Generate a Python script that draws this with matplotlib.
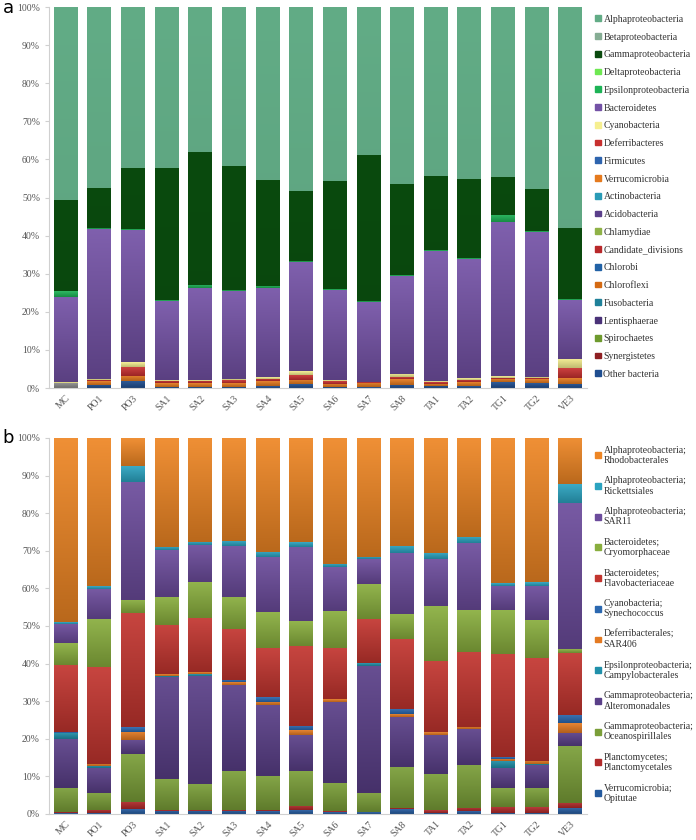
import matplotlib
matplotlib.use('Agg')
import matplotlib.pyplot as plt
import numpy as np
from matplotlib.colors import LinearSegmentedColormap, to_rgb

plt.rcParams['font.family'] = ['Liberation Serif', 'DejaVu Serif']

samples = ['MC', 'PO1', 'PO3', 'SA1', 'SA2', 'SA3', 'SA4', 'SA5', 'SA6', 'SA7', 'SA8',
           'TA1', 'TA2', 'TG1', 'TG2', 'VE3']

# panel a, phylum level (percent), stacked bottom -> top
unassigned = [1.3, 0, 0, 0, 0, 0, 0, 0, 0, 0, 0, 0, 0, 0, 0, 0]
other_bacteria = [0, 0.9, 1.9, 0.4, 0.4, 0.4, 0.5, 1.0, 0.3, 0.2, 0.9, 0.6, 0.5, 1.5, 1.3, 1.2]
verrucomicrobia = [0, 0.9, 1.4, 0.9, 0.9, 1.0, 1.3, 1.2, 0.8, 1.1, 1.4, 0.6, 1.0, 0.8, 1.0, 1.5]
deferribacteres = [0, 0.3, 2.3, 0.6, 0.6, 0.6, 0.6, 1.3, 0.7, 0.2, 0.5, 0.5, 0.7, 0.3, 0.3, 2.6]
cyanobacteria = [0.2, 0.4, 1.2, 0.2, 0.2, 0.4, 0.4, 0.9, 0.2, 0.1, 1.0, 0.2, 0.4, 0.5, 0.4, 2.4]
bacteroidetes = [22.5, 39.2, 34.7, 20.7, 24.2, 23.0, 23.4, 28.6, 23.7, 21.0, 25.7, 34.1, 31.4, 40.4, 38.0, 15.4]
epsilonproteo = [1.4, 0.3, 0.2, 0.2, 0.8, 0.3, 0.6, 0.3, 0.2, 0.3, 0.2, 0.2, 0.2, 1.9, 0.2, 0.2]
gammaproteo = [23.9, 10.6, 16.1, 34.8, 34.9, 32.6, 27.7, 18.4, 28.5, 38.2, 23.9, 19.5, 20.7, 9.9, 11.1, 18.6]
alphaproteo = [50.7, 47.4, 42.2, 42.2, 38.0, 41.7, 45.5, 48.3, 45.6, 38.9, 46.4, 44.3, 45.1, 44.7, 47.7, 58.1]

phyla_legend = ['Alphaproteobacteria', 'Betaproteobacteria', 'Gammaproteobacteria',
                'Deltaproteobacteria', 'Epsilonproteobacteria', 'Bacteroidetes',
                'Cyanobacteria', 'Deferribacteres', 'Firmicutes', 'Verrucomicrobia',
                'Actinobacteria', 'Acidobacteria', 'Chlamydiae', 'Candidate_divisions',
                'Chlorobi', 'Chloroflexi', 'Fusobacteria', 'Lentisphaerae', 'Spirochaetes',
                'Synergistetes', 'Other bacteria']
phyla_colors = ['#62AC86', '#86AD94', '#0A4A0E', '#6EE852', '#1DB356', '#7452A6',
                '#F6EF90', '#C8302F', '#2E64AE', '#E57A1E', '#2A9BB6', '#5A3F8A',
                '#8FB247', '#B8282A', '#2262A6', '#D46A12', '#1F8199', '#4A3278',
                '#6E9A2E', '#8E1F22', '#1F4E90']

# panel b, order level (percent), stacked bottom -> top
opitutae = [0.2, 0.2, 1.2, 0.9, 0.8, 0.8, 0.7, 1.0, 0.5, 0.4, 1.2, 0.3, 0.7, 0.3, 0.3, 1.5]
planctomycetales = [0.4, 0.8, 2.1, 0.1, 0.2, 0.2, 0.3, 1.2, 0.2, 0.1, 0.3, 0.7, 0.8, 1.6, 1.5, 1.5]
oceanospirillales = [6.4, 4.7, 12.7, 8.3, 7.0, 10.3, 9.1, 9.3, 7.6, 5.2, 11.1, 9.6, 11.5, 4.9, 5.0, 15.1]
alteromonadales = [12.9, 6.4, 3.7, 27.2, 28.7, 23.0, 18.9, 9.5, 21.6, 33.7, 13.3, 10.4, 9.5, 5.3, 6.2, 3.5]
campylobacterales = [1.7, 0.6, 0, 0.3, 0.5, 0, 0, 0, 0, 0.7, 0, 0, 0, 1.9, 0.4, 0]
sar406 = [0, 0.6, 2.2, 0.4, 0.5, 0.7, 0.8, 1.3, 0.7, 0, 0.7, 0.7, 0.7, 0.6, 0.8, 2.5]
synechococcus = [0.2, 0, 1.1, 0, 0, 0.6, 1.2, 1.1, 0, 0, 1.4, 0, 0, 0.5, 0, 2.2]
flavobacteriaceae = [17.8, 25.7, 30.4, 13.1, 14.3, 13.6, 13.1, 21.4, 13.6, 11.7, 18.5, 19.1, 20.0, 27.4, 27.2, 16.6]
cryomorphaceae = [5.8, 12.8, 3.5, 7.5, 9.6, 8.6, 9.5, 6.5, 9.9, 9.3, 6.7, 14.5, 11.1, 11.8, 10.2, 0.9]
sar11 = [5.1, 8.0, 31.5, 12.4, 9.9, 13.5, 14.7, 19.8, 11.5, 6.6, 16.3, 12.4, 17.7, 6.4, 9.1, 39.0]
rickettsiales = [0.5, 0.7, 4.2, 0.9, 0.8, 1.4, 1.5, 1.3, 0.9, 0.7, 1.9, 1.6, 1.7, 0.6, 0.9, 4.9]
rhodobacterales = [49.0, 39.5, 7.4, 28.9, 27.7, 27.3, 30.2, 27.6, 33.5, 31.6, 28.6, 30.7, 26.3, 38.7, 38.4, 12.3]

order_legend = ['Alphaproteobacteria;\nRhodobacterales', 'Alphaproteobacteria;\nRickettsiales',
                'Alphaproteobacteria;\nSAR11', 'Bacteroidetes;\nCryomorphaceae',
                'Bacteroidetes;\nFlavobacteriaceae', 'Cyanobacteria;\nSynechococcus',
                'Deferribacterales;\nSAR406', 'Epsilonproteobacteria;\nCampylobacterales',
                'Gammaproteobacteria;\nAlteromonadales', 'Gammaproteobacteria;\nOceanospirillales',
                'Planctomycetes;\nPlanctomycetales', 'Verrucomicrobia;\nOpitutae']
order_colors = ['#EE8624', '#2BA3C0', '#6C4C9C', '#89AE3E', '#C2352F', '#2B68B0',
                '#E47A22', '#2090AA', '#5A3F88', '#7A9E38', '#B12A2A', '#245A9E']


def shade(c, f):
    r, g, b = to_rgb(c)
    if f > 1:
        return (r + (1 - r) * (f - 1), g + (1 - g) * (f - 1), b + (1 - b) * (f - 1))
    return (r * f, g * f, b * f)


def gradient_bars(ax, bars, color, lo=0.78, hi=1.08):
    # excel-like gradient fill: lighter top, darker bottom
    cmap = LinearSegmentedColormap.from_list('g', [shade(color, lo), shade(color, hi)])
    grad = np.linspace(0, 1, 64).reshape(-1, 1)
    for p in bars:
        h = p.get_height()
        if h <= 0:
            continue
        x0, y0, w = p.get_x(), p.get_y(), p.get_width()
        ax.imshow(grad, extent=[x0, x0 + w, y0, y0 + h], origin='lower', cmap=cmap,
                  aspect='auto', zorder=2, interpolation='bilinear')


def stacked(ax, series, colors, flat=()):
    x = np.arange(len(samples))
    bottom = np.zeros(len(samples))
    for i, (vals, c) in enumerate(zip(series, colors)):
        vals = np.array(vals, dtype=float)
        bars = ax.bar(x, vals, 0.71, bottom=bottom, color=c, zorder=1, edgecolor='none')
        if i in flat:
            gradient_bars(ax, bars, c, 0.97, 1.0)
        else:
            gradient_bars(ax, bars, c)
        bottom += vals


def style(ax):
    ax.set_xlim(-0.5, len(samples) - 0.5)
    ax.set_ylim(0, 100)
    ax.set_yticks(np.arange(0, 101, 10))
    ax.set_yticklabels(['%d%%' % v for v in range(0, 101, 10)])
    ax.set_xticks(np.arange(len(samples)))
    ax.set_xticklabels(samples, rotation=45, ha='right', rotation_mode='anchor')
    for s in ['top', 'right']:
        ax.spines[s].set_visible(False)
    for s in ['left', 'bottom']:
        ax.spines[s].set_color('#D0D0D0')
        ax.spines[s].set_linewidth(0.8)
    ax.tick_params(axis='both', colors='#D0D0D0', labelcolor='#555555', labelsize=7,
                   length=3, width=0.8)
    ax.tick_params(axis='x', length=0, pad=4)


fig = plt.figure(figsize=(6.96, 8.4), dpi=100)

# ---- panel a
ax1 = fig.add_axes([0.0704, 0.538, 0.773, 0.4536])
series_a = [unassigned, other_bacteria, verrucomicrobia, deferribacteres, cyanobacteria,
            bacteroidetes, epsilonproteo, gammaproteo, alphaproteo]
cols_a = ['#8A8A8A', phyla_colors[20], phyla_colors[9], phyla_colors[7], phyla_colors[6],
          phyla_colors[5], phyla_colors[4], phyla_colors[2], phyla_colors[0]]
stacked(ax1, series_a, cols_a, flat=(7, 8))
style(ax1)
hand_a = [plt.Rectangle((0, 0), 1, 1, color=c) for c in phyla_colors]
ax1.legend(hand_a, phyla_legend, loc='upper left', bbox_to_anchor=(1.008, 0.99),
           frameon=False, fontsize=7, labelspacing=0.9, handlelength=0.55,
           handleheight=0.55, handletextpad=0.3, labelcolor='#333333', borderaxespad=0)
fig.text(0.004, 0.99, 'a', fontsize=13, family='DejaVu Sans', va='center', ha='left')

# ---- panel b
ax2 = fig.add_axes([0.0704, 0.031, 0.773, 0.4476])
series_b = [opitutae, planctomycetales, oceanospirillales, alteromonadales, campylobacterales,
            sar406, synechococcus, flavobacteriaceae, cryomorphaceae, sar11, rickettsiales,
            rhodobacterales]
cols_b = order_colors[::-1]
stacked(ax2, series_b, cols_b)
style(ax2)
hand_b = [plt.Rectangle((0, 0), 1, 1, color=c) for c in order_colors]
ax2.legend(hand_b, order_legend, loc='upper left', bbox_to_anchor=(1.008, 0.99),
           frameon=False, fontsize=7, labelspacing=1.16, handlelength=0.55,
           handleheight=0.55, handletextpad=0.3, labelcolor='#333333', borderaxespad=0)
fig.text(0.004, 0.478, 'b', fontsize=13, family='DejaVu Sans', va='center', ha='left')

fig.savefig('out.png', dpi=100)
